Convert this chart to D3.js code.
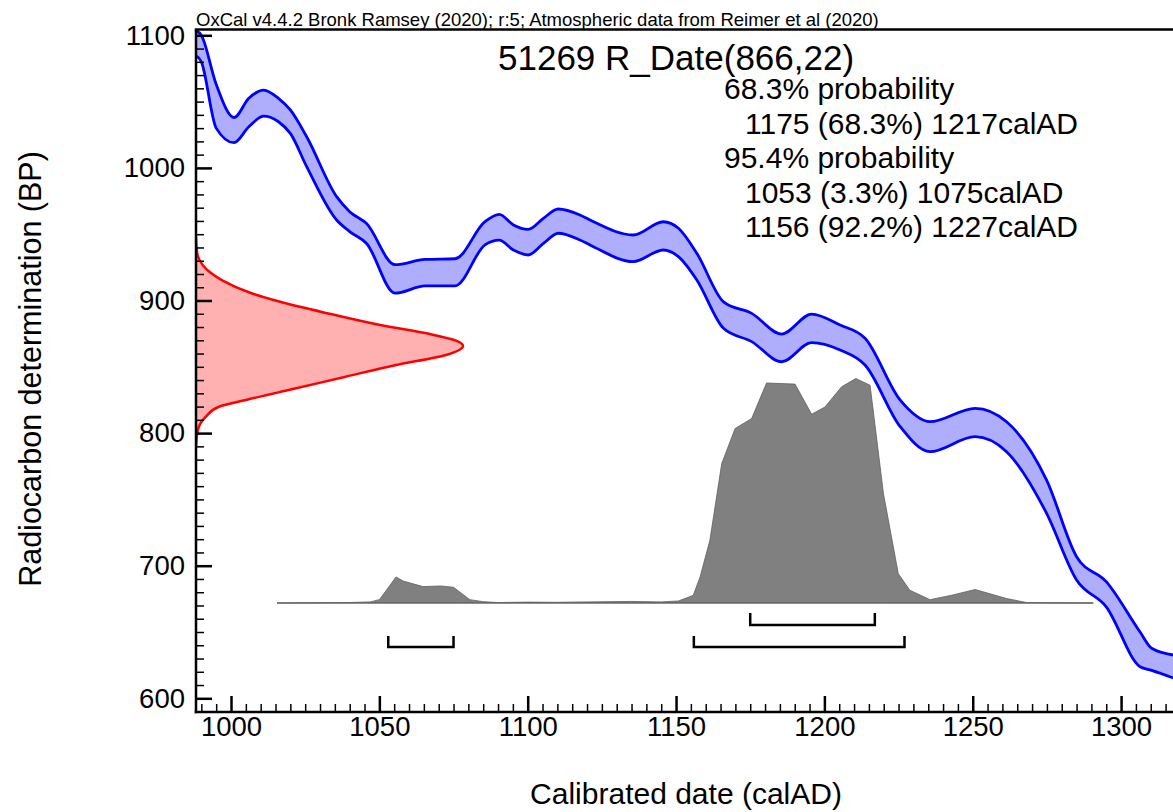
<!DOCTYPE html>
<html>
<head>
<meta charset="utf-8">
<script src="https://cdn.jsdelivr.net/npm/d3@7"></script>
<style>
  body { margin: 0; background: #fff; }
  svg text { font-family: "Liberation Sans", Arial, sans-serif; fill: #000; }
</style>
</head>
<body>
<svg id="chart" width="1173" height="812"></svg>
<script>
// calibration curve (IntCal20): calAD, upper and lower edge in BP
const curveYears = [988, 990, 995, 1001, 1006, 1011, 1016, 1020, 1025.5, 1035.6, 1040, 1045.7, 1055.3, 1065.4, 1075.5, 1085.6, 1090.4, 1095.2, 1100.2, 1105.3, 1110.3, 1117.6, 1121, 1135.6, 1145.7, 1150.8, 1157, 1166, 1175.5, 1185.6, 1195.7, 1205.3, 1213.7, 1225.5, 1235.6, 1250.8, 1261.4, 1274.9, 1285, 1295, 1306.4, 1310.3, 1318];
const curveUpper = [1104, 1100, 1063, 1038, 1052.5, 1058.7, 1052.5, 1043.7, 1023.5, 978.3, 967, 958, 927, 931, 931.5, 959.4, 965, 957, 953.7, 962, 969, 964.5, 960.7, 949.4, 959.4, 954.5, 935.6, 899, 890.3, 874.7, 889.8, 881.5, 871.5, 825, 808.6, 818.7, 808.6, 764.6, 706.8, 688, 650, 637.7, 632.5];
const curveLower = [1085, 1080, 1030, 1019, 1031, 1039, 1034.8, 1026, 1001, 960.7, 952, 943, 905.5, 911, 911, 942, 945.6, 938, 934.3, 943, 950.7, 945.6, 941.9, 929.3, 938.1, 933.1, 915.5, 879, 869, 853.8, 868.2, 862.7, 851.4, 805, 786, 797.3, 786, 739.5, 689.2, 669, 623.8, 621, 615];

// radiocarbon measurement 866 +/- 22 BP, relative probability
const c14BP =   [948, 940, 933, 926.8, 921.7, 915, 906, 899, 890, 881.5, 874.7, 869.7, 865.7, 858.9, 851.4, 842.5, 833.8, 825, 819.9, 812.4, 802.3, 790];
const c14Prob = [0, 0.002, 0.0075, 0.025, 0.05, 0.1, 0.2, 0.315, 0.5, 0.69, 0.876, 0.974, 1, 0.936, 0.75, 0.56, 0.375, 0.187, 0.086, 0.037, 0.007, 0];

// calibrated distribution, relative probability
const calYears = [1015.5, 1040, 1047, 1050, 1052, 1055.6, 1058, 1064.7, 1070.7, 1075, 1078, 1080.5, 1085, 1090, 1100, 1110, 1120, 1135, 1145, 1150.8, 1155.8, 1158.1, 1161.4, 1165.4, 1169.9, 1175.5, 1180.5, 1190.1, 1195.7, 1200.2, 1205.8, 1210.6, 1215.4, 1219.9, 1224.9, 1228.8, 1235.6, 1243, 1250.8, 1261.4, 1268.2, 1275, 1290.6];
const calProb = [0, 0.002, 0.005, 0.015, 0.05, 0.116, 0.098, 0.073, 0.076, 0.07, 0.04, 0.015, 0.006, 0.002, 0.004, 0.003, 0.005, 0.007, 0.005, 0.009, 0.034, 0.116, 0.279, 0.621, 0.777, 0.822, 0.98, 0.975, 0.841, 0.873, 0.963, 1, 0.97, 0.488, 0.131, 0.057, 0.015, 0.035, 0.06, 0.02, 0.002, 0.001, 0];

// ranges
const range68 = [[1175, 1217]];
const range95 = [[1053, 1075], [1156, 1227]];

const xMajor = [1000, 1050, 1100, 1150, 1200, 1250, 1300];
const yMajor = [600, 700, 800, 900, 1000, 1100];

const titleText = "51269 R_Date(866,22)";
const resultLines = [
  { text: "68.3% probability", indent: 0 },
  { text: "1175 (68.3%) 1217calAD", indent: 1 },
  { text: "95.4% probability", indent: 0 },
  { text: "1053 (3.3%) 1075calAD", indent: 1 },
  { text: "1156 (92.2%) 1227calAD", indent: 1 }
];
const headerText = "OxCal v4.4.2 Bronk Ramsey (2020); r:5; Atmospheric data from Reimer et al (2020)";

const plotLeft = 196, plotRight = 1173, plotTop = 29.5, plotBottom = 712;

const svg = d3.select("#chart");

const x = d3.scaleLinear().domain([988.2, 1317.5]).range([plotLeft, plotRight]);
const y = d3.scaleLinear().domain([600, 1100]).range([698.3, 35.3]);
const xRed = d3.scaleLinear().domain([0, 1]).range([plotLeft, plotLeft + 267]);
const yCal = d3.scaleLinear().domain([0, 1]).range([603, 378.5]);

svg.append("clipPath").attr("id", "plot-clip")
  .append("rect")
  .attr("x", plotLeft).attr("y", plotTop)
  .attr("width", plotRight - plotLeft).attr("height", plotBottom - plotTop);

const plot = svg.append("g").attr("clip-path", "url(#plot-clip)");

// red radiocarbon distribution
const c14 = c14BP.map((d, i) => ({ bp: d, p: c14Prob[i] }));
plot.append("path")
  .datum(c14)
  .attr("fill", "#ffb0b0")
  .attr("d", d3.area().curve(d3.curveMonotoneY).y(d => y(d.bp)).x0(xRed(0)).x1(d => xRed(d.p)));
plot.append("path")
  .datum(c14)
  .attr("fill", "none")
  .attr("stroke", "#ff0000")
  .attr("stroke-width", 2.5)
  .attr("stroke-linejoin", "round")
  .attr("d", d3.line().curve(d3.curveMonotoneY).y(d => y(d.bp)).x(d => xRed(d.p)));

// blue calibration band
const curve = curveYears.map((d, i) => ({ yr: d, hi: curveUpper[i], lo: curveLower[i] }));
plot.append("path")
  .datum(curve)
  .attr("fill", "#aeaefc")
  .attr("d", d3.area().curve(d3.curveMonotoneX).x(d => x(d.yr)).y0(d => y(d.lo)).y1(d => y(d.hi)));
["hi", "lo"].forEach(k => {
  plot.append("path")
    .datum(curve)
    .attr("fill", "none")
    .attr("stroke", "#0000ff")
    .attr("stroke-width", 2.8)
    .attr("stroke-linejoin", "round")
    .attr("d", d3.line().curve(d3.curveMonotoneX).x(d => x(d.yr)).y(d => y(d[k])));
});

// grey calibrated distribution
const cal = calYears.map((d, i) => ({ yr: d, p: calProb[i] }));
plot.append("path")
  .datum(cal)
  .attr("fill", "#808080")
  .attr("stroke", "#606060")
  .attr("stroke-width", 0.8)
  .attr("d", d3.area().x(d => x(d.yr)).y0(yCal(0)).y1(d => yCal(d.p)));
plot.append("line")
  .attr("x1", x(calYears[0])).attr("x2", x(calYears[calYears.length - 1]))
  .attr("y1", yCal(0)).attr("y2", yCal(0))
  .attr("stroke", "#606060").attr("stroke-width", 1.2);

// range brackets
function bracket(r, yTop, yBot) {
  return `M${x(r[0])},${yTop}L${x(r[0])},${yBot}L${x(r[1])},${yBot}L${x(r[1])},${yTop}`;
}
range68.forEach(r => {
  svg.append("path").attr("d", bracket(r, 613, 625))
    .attr("fill", "none").attr("stroke", "#000").attr("stroke-width", 2.5);
});
range95.forEach(r => {
  svg.append("path").attr("d", bracket(r, 636, 647))
    .attr("fill", "none").attr("stroke", "#000").attr("stroke-width", 2.5);
});

// axes
const xMinor = d3.range(990, 1318, 5).filter(v => v % 50 !== 0);
const yMinor = d3.range(590, 1101, 10).filter(v => v % 100 !== 0);

const xAxisG = svg.append("g").attr("transform", `translate(0,${plotBottom})`);
xAxisG.append("g")
  .call(d3.axisBottom(x).tickValues(xMinor).tickSize(-8).tickSizeOuter(0).tickFormat(""))
  .call(g => g.select(".domain").remove())
  .call(g => g.selectAll("line").attr("stroke-width", 1.5));
xAxisG.append("g")
  .call(d3.axisBottom(x).tickValues(xMajor).tickSize(-16).tickSizeOuter(0).tickPadding(4).tickFormat(d3.format("d")))
  .call(g => g.select(".domain").remove())
  .call(g => g.selectAll("line").attr("stroke-width", 2.5))
  .call(g => g.selectAll("text").attr("font-size", 27.5).attr("font-family", "Liberation Sans, Arial, sans-serif"));

const yAxisG = svg.append("g").attr("transform", `translate(${plotLeft},0)`);
yAxisG.append("g")
  .call(d3.axisLeft(y).tickValues(yMinor).tickSize(-8).tickSizeOuter(0).tickFormat(""))
  .call(g => g.select(".domain").remove())
  .call(g => g.selectAll("line").attr("stroke-width", 1.5));
yAxisG.append("g")
  .call(d3.axisLeft(y).tickValues(yMajor).tickSize(-16).tickSizeOuter(0).tickPadding(11).tickFormat(d3.format("d")))
  .call(g => g.select(".domain").remove())
  .call(g => g.selectAll("line").attr("stroke-width", 2.5))
  .call(g => g.selectAll("text").attr("font-size", 27.5).attr("font-family", "Liberation Sans, Arial, sans-serif"));

// frame lines
svg.append("line").attr("x1", plotLeft).attr("x2", plotLeft).attr("y1", plotTop).attr("y2", plotBottom + 1.25)
  .attr("stroke", "#000").attr("stroke-width", 2.5);
svg.append("line").attr("x1", plotLeft - 1.25).attr("x2", plotRight).attr("y1", plotBottom).attr("y2", plotBottom)
  .attr("stroke", "#000").attr("stroke-width", 2.5);
svg.append("line").attr("x1", plotLeft - 1.25).attr("x2", plotRight).attr("y1", plotTop).attr("y2", plotTop)
  .attr("stroke", "#000").attr("stroke-width", 2.5);

// texts
svg.append("text").attr("x", plotLeft).attr("y", 26)
  .attr("font-size", 18.5).text(headerText);

svg.append("text").attr("x", 498).attr("y", 70)
  .attr("font-size", 35).text(titleText);

resultLines.forEach((l, i) => {
  svg.append("text")
    .attr("x", l.indent ? 745 : 724)
    .attr("y", 99 + i * 34.5)
    .attr("font-size", 30)
    .text(l.text);
});

svg.append("text")
  .attr("x", 686).attr("y", 804)
  .attr("text-anchor", "middle")
  .attr("font-size", 30)
  .text("Calibrated date (calAD)");

svg.append("text")
  .attr("transform", "translate(41,369) rotate(-90)")
  .attr("text-anchor", "middle")
  .attr("font-size", 30.5)
  .text("Radiocarbon determination (BP)");
</script>
</body>
</html>
